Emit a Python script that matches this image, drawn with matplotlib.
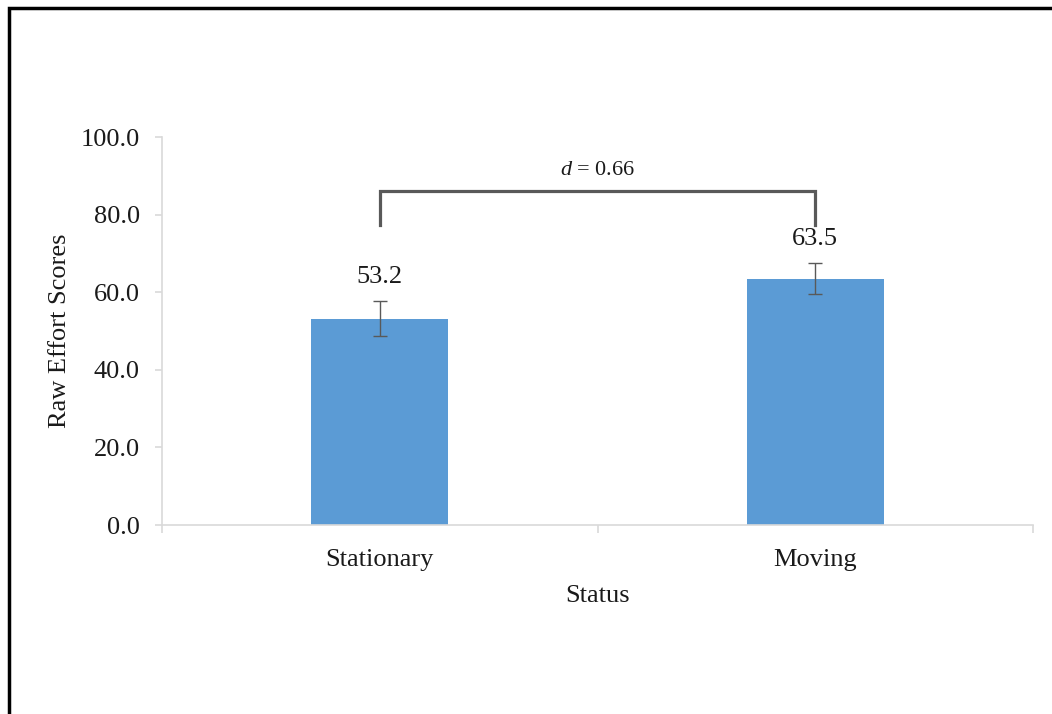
import matplotlib
matplotlib.use("Agg")
import matplotlib.pyplot as plt
from matplotlib.patches import Rectangle

categories = ["Stationary", "Moving"]
means = [53.2, 63.5]
errors = [4.5, 3.9]
effect_label = "0.66"
bracket_top = 86.1
bracket_leg = 77.2

plt.rcParams["font.family"] = ["Liberation Serif", "DejaVu Serif"]
plt.rcParams["mathtext.fontset"] = "custom"
plt.rcParams["mathtext.rm"] = "Liberation Serif"
plt.rcParams["mathtext.it"] = "Liberation Serif:italic"

text_color = "#1a1a1a"
axis_color = "#d9d9d9"
bar_color = "#5b9bd5"
dark_gray = "#595959"


def main() -> None:
    fig = plt.figure(figsize=(10.52, 7.14), dpi=100)
    ax = fig.add_axes([162 / 1052, 1 - 525 / 714, (1033 - 162) / 1052, (525 - 137) / 714])

    x = list(range(len(categories)))
    ax.bar(x, means, width=0.315, color=bar_color, zorder=2)
    ax.errorbar(x, means, yerr=errors, fmt="none", ecolor=dark_gray,
                elinewidth=1.0, capsize=5, capthick=1.0, zorder=3)

    for xi, m, e in zip(x, means, errors):
        ax.text(xi, m + e + 6.2, f"{m:.1f}", ha="center", va="center",
                fontsize=19, color=text_color)

    # effect size bracket
    ax.plot([x[0], x[0], x[1], x[1]], [bracket_leg, bracket_top, bracket_top, bracket_leg],
            color=dark_gray, lw=2.3, solid_joinstyle="miter", clip_on=False, zorder=4)
    ax.text((x[0] + x[1]) / 2, bracket_top + 5.2, r"$d$ = " + effect_label,
            ha="center", va="center", fontsize=16, color=text_color)

    ax.set_xlim(-0.5, 1.5)
    ax.set_ylim(0, 100)
    ax.set_yticks([0, 20, 40, 60, 80, 100])
    ax.set_yticklabels([f"{v:.1f}" for v in [0, 20, 40, 60, 80, 100]])
    ax.set_xticks(x)
    ax.set_xticklabels(categories)
    ax.set_xticks([-0.5, 0.5, 1.5], minor=True)

    for side in ["top", "right"]:
        ax.spines[side].set_visible(False)
    for side in ["left", "bottom"]:
        ax.spines[side].set_color(axis_color)
        ax.spines[side].set_linewidth(1.2)

    ax.tick_params(axis="y", direction="out", length=5, width=1.2, color=axis_color,
                   pad=11, labelsize=19, labelcolor=text_color)
    ax.tick_params(axis="x", which="major", length=0, pad=17,
                   labelsize=19, labelcolor=text_color)
    ax.tick_params(axis="x", which="minor", direction="out", length=6, width=1.2,
                   color=axis_color)

    ax.set_ylabel("Raw Effort Scores", fontsize=19, color=text_color)
    ax.yaxis.set_label_coords(-0.104, 0.5)
    ax.set_xlabel("Status", fontsize=19, color=text_color)
    ax.xaxis.set_label_coords(0.5, -0.155)

    # outer frame (only left and top edges fall inside the image)
    fig.add_artist(Rectangle((9.5 / 1052, -0.2), 1.5, 1.2 - 7.5 / 714,
                             transform=fig.transFigure, fill=False,
                             edgecolor="black", lw=2.5))

    fig.savefig("out.png", dpi=100)


if __name__ == "__main__":
    main()
